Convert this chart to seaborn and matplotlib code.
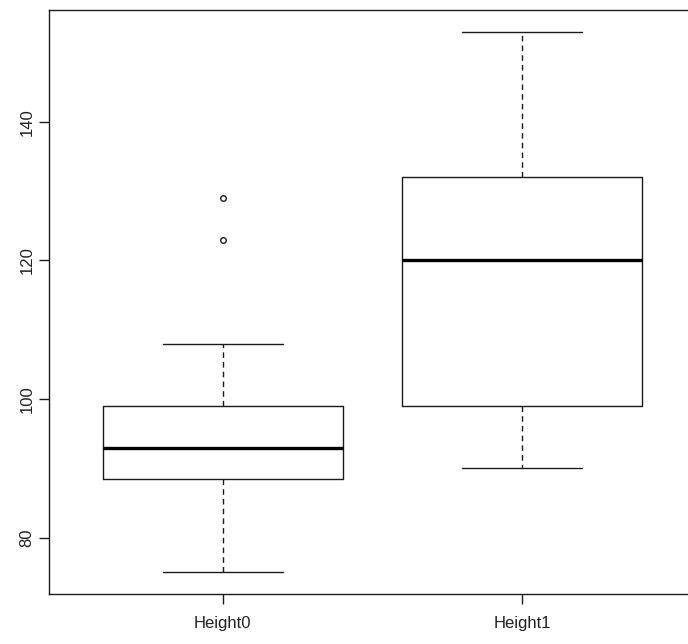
import matplotlib
matplotlib.use("Agg")
import matplotlib.pyplot as plt
import seaborn as sns
import pandas as pd

# Sample values reproducing the boxplot summaries
categories = ["Height0", "Height1"]
height0 = [75, 82, 86, 88.5, 90, 92, 93, 95, 97, 99, 108, 123, 129]
height1 = [90, 95, 99, 110, 120, 125, 132, 140, 153]
y_ticks = [80, 100, 120, 140]

df = pd.DataFrame({
    "group": [categories[0]] * len(height0) + [categories[1]] * len(height1),
    "value": height0 + height1,
})

sns.set_theme(style="white")
plt.rcParams["font.family"] = ["Liberation Sans", "DejaVu Sans"]

fig = plt.figure(figsize=(6.88, 6.44), dpi=100)
ax = fig.add_axes([49 / 688, 1 - 594 / 644, (696 - 49) / 688, (594 - 10) / 644])

line_c = "#1a1a1a"
sns.boxplot(
    data=df, x="group", y="value", order=categories, ax=ax,
    width=0.8, whis=1.5, fill=False, color=line_c, linecolor=line_c,
    linewidth=1.0,
    boxprops=dict(color=line_c, linewidth=1.0),
    medianprops=dict(color="black", linewidth=2.4),
    whiskerprops=dict(color=line_c, linewidth=1.0, linestyle=(0, (4, 3))),
    capprops=dict(color=line_c, linewidth=1.0),
    flierprops=dict(marker="o", markerfacecolor="white", markeredgecolor=line_c,
                    markersize=4, markeredgewidth=1.0),
    capwidths=0.4,
)

ax.set_xlim(0.5 - 1 - 0.08, 1.5 + 0.08)
ax.set_xlim(-0.58, 1.58)
ax.set_ylim(71.88, 156.12)
ax.set_yticks(y_ticks)
ax.set_yticklabels([str(t) for t in y_ticks], rotation=90, va="center")
ax.set_xlabel("")
ax.set_ylabel("")

for s in ax.spines.values():
    s.set_visible(True)
    s.set_color(line_c)
    s.set_linewidth(1.0)

ax.tick_params(axis="both", which="major", direction="out", length=7.5,
               width=1.0, color=line_c, labelsize=12, labelcolor="#222222",
               left=True, bottom=True)
ax.tick_params(axis="x", pad=8)
ax.tick_params(axis="y", pad=3)
ax.grid(False)
ax.set_facecolor("white")
fig.patch.set_facecolor("white")

fig.savefig("out.png", dpi=100, facecolor="white")
